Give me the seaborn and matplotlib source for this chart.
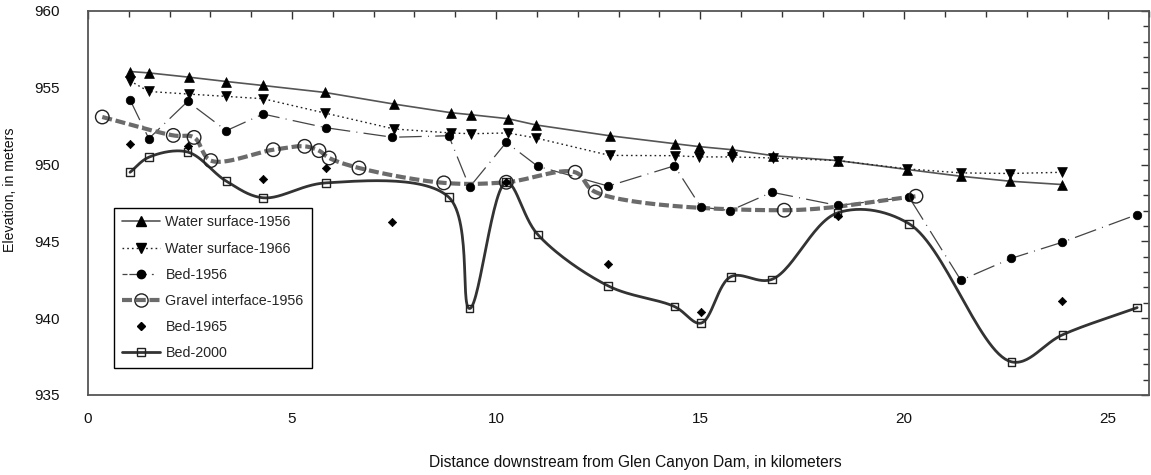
import numpy as np
import pandas as pd
import matplotlib
matplotlib.use("Agg")
import matplotlib.pyplot as plt
import seaborn as sns
from matplotlib.lines import Line2D
from matplotlib.ticker import MultipleLocator

# ---------------- data ----------------
ws56_x = [1.03, 1.49, 2.48, 3.39, 4.29, 5.80, 7.50, 8.89, 9.38, 10.29, 10.98,
          12.78, 14.38, 14.98, 15.78, 16.79, 18.38, 20.08, 21.39, 22.59, 23.88]
ws56_y = [956.06, 955.97, 955.69, 955.41, 955.15, 954.70, 953.94, 953.38, 953.25,
          952.99, 952.58, 951.88, 951.36, 951.17, 950.97, 950.58, 950.26, 949.68,
          949.24, 948.92, 948.70]

ws66_x = ws56_x
ws66_y = [955.45, 954.76, 954.59, 954.44, 954.29, 953.36, 952.32, 952.06, 952.01,
          952.06, 951.73, 950.60, 950.58, 950.50, 950.50, 950.43, 950.26, 949.72,
          949.46, 949.42, 949.50]

bed56_x = [1.03, 1.49, 2.44, 3.39, 4.29, 5.83, 7.46, 8.84, 9.35, 10.25, 11.02,
           12.75, 14.37, 15.02, 15.74, 16.76, 18.37, 20.12, 21.39, 22.63, 23.88, 25.71]
bed56_y = [954.22, 951.69, 954.11, 952.21, 953.29, 952.40, 951.78, 951.88, 948.53,
           951.45, 949.89, 948.60, 949.92, 947.23, 947.01, 948.20, 947.34, 947.88,
           942.47, 943.90, 944.95, 946.75]

grav_x = [0.35, 2.09, 2.60, 3.01, 4.54, 5.31, 5.66, 5.91, 6.64, 8.72, 10.25,
          11.94, 12.43, 17.06, 20.29]
grav_y = [953.10, 951.90, 951.77, 950.26, 950.97, 951.19, 950.91, 950.43, 949.78,
          948.81, 948.85, 949.50, 948.22, 947.03, 947.94]

bed65_x = [1.03, 2.44, 4.29, 5.83, 7.46, 10.25, 12.75, 15.02, 18.37, 23.88]
bed65_y = [951.36, 951.23, 949.09, 949.78, 946.25, 948.85, 943.55, 940.41, 946.64, 941.12]

bed00_x = [1.03, 1.49, 2.44, 3.39, 4.29, 5.83, 8.84, 9.35, 10.25, 11.02, 12.75,
           14.37, 15.02, 15.75, 16.76, 18.37, 20.12, 22.63, 23.88, 25.71]
bed00_y = [949.50, 950.48, 950.82, 948.92, 947.84, 948.81, 947.88, 940.63, 948.85,
           945.45, 942.10, 940.76, 939.68, 942.70, 942.53, 946.86, 946.15, 937.16,
           938.92, 940.69]

labels = ["Water surface-1956", "Water surface-1966", "Bed-1956",
          "Gravel interface-1956", "Bed-1965", "Bed-2000"]
x_label = "Distance downstream from Glen Canyon Dam, in kilometers"
y_label = "Elevation, in meters"


def smooth(x, y, n=30, sx=40.85, sy=15.4, alpha=0.5):
    """Centripetal Catmull-Rom curve through the data points (drawing only)."""
    P = np.column_stack([np.asarray(x, float) * sx, np.asarray(y, float) * sy])
    P = np.vstack([2 * P[0] - P[1], P, 2 * P[-1] - P[-2]])
    out = []
    for i in range(1, len(P) - 2):
        p0, p1, p2, p3 = P[i - 1], P[i], P[i + 1], P[i + 2]
        t0 = 0.0
        t1 = t0 + np.linalg.norm(p1 - p0) ** alpha
        t2 = t1 + np.linalg.norm(p2 - p1) ** alpha
        t3 = t2 + np.linalg.norm(p3 - p2) ** alpha
        t = np.linspace(t1, t2, n, endpoint=False)[:, None]
        a1 = (t1 - t) / (t1 - t0) * p0 + (t - t0) / (t1 - t0) * p1
        a2 = (t2 - t) / (t2 - t1) * p1 + (t - t1) / (t2 - t1) * p2
        a3 = (t3 - t) / (t3 - t2) * p2 + (t - t2) / (t3 - t2) * p3
        b1 = (t2 - t) / (t2 - t0) * a1 + (t - t0) / (t2 - t0) * a2
        b2 = (t3 - t) / (t3 - t1) * a2 + (t - t1) / (t3 - t1) * a3
        c = (t2 - t) / (t2 - t1) * b1 + (t - t1) / (t2 - t1) * b2
        out.append(c)
    out.append(P[-2][None, :])
    C = np.vstack(out)
    return C[:, 0] / sx, C[:, 1] / sy


sns.set_theme(style="white")
plt.rcParams["font.family"] = ["Liberation Sans", "DejaVu Sans"]

fig = plt.figure(figsize=(11.51, 4.75), dpi=100)
ax = fig.add_axes([88 / 1151, 1 - 395 / 475, 1061 / 1151, 384 / 475])

# styles
st_ws56 = dict(color="#555555", lw=1.2, ls="-")
st_ws66 = dict(color="#222222", lw=1.0, ls=(0, (1.2, 2.2)))
st_bed56 = dict(color="#444444", lw=0.9, ls=(0, (18, 5, 0.8, 5)))
st_grav = dict(color="#6b6b6b", lw=3.0, ls=(0, (2.4, 0.9)))
st_bed00 = dict(color="#333333", lw=2.0, ls="-")

# lines
sns.lineplot(x=ws56_x, y=ws56_y, sort=False, estimator=None, ax=ax,
             color=st_ws56["color"], linewidth=st_ws56["lw"], linestyle=st_ws56["ls"], zorder=2)
sns.lineplot(x=ws66_x, y=ws66_y, sort=False, estimator=None, ax=ax,
             color=st_ws66["color"], linewidth=st_ws66["lw"], linestyle=st_ws66["ls"], zorder=2)
sns.lineplot(x=bed56_x, y=bed56_y, sort=False, estimator=None, ax=ax,
             color=st_bed56["color"], linewidth=st_bed56["lw"], linestyle=st_bed56["ls"], zorder=2)
gx, gy = smooth(grav_x, grav_y)
sns.lineplot(x=gx, y=gy, sort=False, estimator=None, ax=ax,
             color=st_grav["color"], linewidth=st_grav["lw"], linestyle=st_grav["ls"], zorder=2)
bx, by = smooth(bed00_x, bed00_y)
sns.lineplot(x=bx, y=by, sort=False, estimator=None, ax=ax,
             color=st_bed00["color"], linewidth=st_bed00["lw"], linestyle=st_bed00["ls"], zorder=2)

# markers
sns.scatterplot(x=ws56_x, y=ws56_y, marker="^", s=50, color="black", edgecolor="black",
                linewidth=0.5, ax=ax, zorder=4)
sns.scatterplot(x=ws66_x, y=ws66_y, marker="v", s=50, color="black", edgecolor="black",
                linewidth=0.5, ax=ax, zorder=4)
sns.scatterplot(x=bed56_x, y=bed56_y, marker="o", s=38, color="black", edgecolor="black",
                linewidth=0.5, ax=ax, zorder=4)
sns.scatterplot(x=grav_x, y=grav_y, marker="o", s=95, facecolor="none", edgecolor="#222222",
                linewidth=1.0, ax=ax, zorder=4)
sns.scatterplot(x=bed00_x, y=bed00_y, marker="s", s=30, facecolor="none", edgecolor="#222222",
                linewidth=1.0, ax=ax, zorder=4)
sns.scatterplot(x=bed65_x, y=bed65_y, marker="D", s=18, color="black", edgecolor="black",
                linewidth=0.5, ax=ax, zorder=5)

ax.set_xlim(0, 26)
ax.set_ylim(935, 960)
ax.xaxis.set_major_locator(MultipleLocator(5))
ax.xaxis.set_minor_locator(MultipleLocator(1))
ax.yaxis.set_major_locator(MultipleLocator(5))
ax.yaxis.set_minor_locator(MultipleLocator(1))
ax.tick_params(which="both", direction="in", top=True, right=True, color="#333333",
               width=1.0, labelsize=11, labelcolor="#111111")
ax.tick_params(which="major", length=6, pad=12)
ax.tick_params(axis="y", which="major", pad=20)
ax.tick_params(which="minor", length=4)
for sp in ax.spines.values():
    sp.set_color("#555555")
    sp.set_linewidth(1.3)

ax.set_xlabel(x_label, fontsize=11.2, color="#111111")
ax.set_ylabel(y_label, fontsize=10.2, color="#111111")
ax.xaxis.set_label_coords(0.516, -0.156)
ax.yaxis.set_label_coords(-0.067, 0.534)

handles = [
    Line2D([], [], marker="^", ms=6.5, mfc="black", mec="black", **st_ws56),
    Line2D([], [], marker="v", ms=6.5, mfc="black", mec="black", **st_ws66),
    Line2D([], [], marker="o", ms=6, mfc="black", mec="black",
           color="#444444", lw=0.9, ls=(0, (4, 1.5, 14))),
    Line2D([], [], marker="o", ms=9.5, mfc="none", mec="#222222", mew=1.0, **st_grav),
    Line2D([], [], marker="D", ms=4.5, mfc="black", mec="black", ls="none"),
    Line2D([], [], marker="s", ms=5.5, mfc="none", mec="#222222", mew=1.0, **st_bed00),
]
leg = ax.legend(handles, labels, loc="lower left", bbox_to_anchor=(0.0245, 0.07),
                borderaxespad=0, fontsize=10.3, frameon=True, fancybox=False,
                handlelength=2.7, handletextpad=0.35, labelspacing=0.85,
                borderpad=0.55, edgecolor="black")
leg.get_frame().set_linewidth(1.0)
leg.get_frame().set_alpha(1)

fig.savefig("out.png", dpi=100)
